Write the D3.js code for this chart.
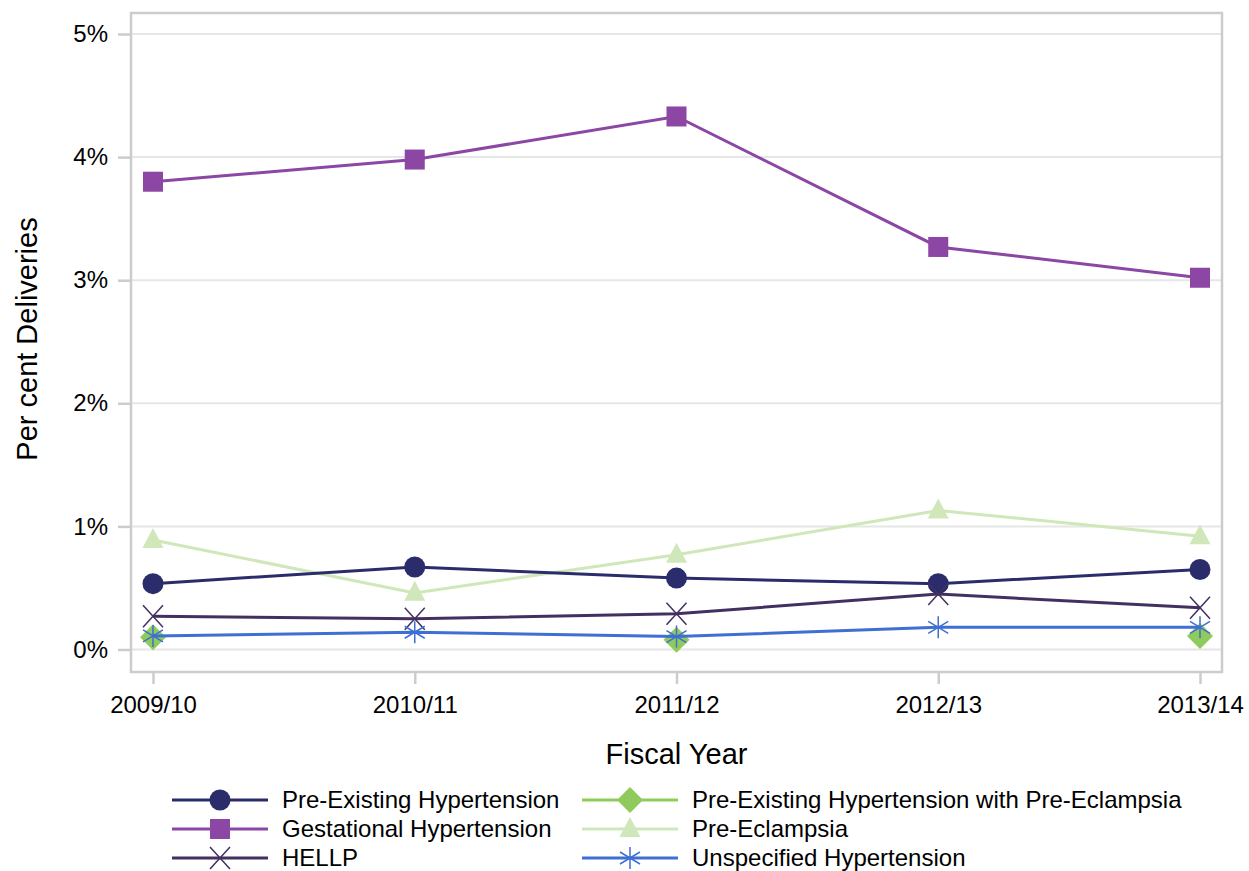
<!DOCTYPE html>
<html>
<head>
<meta charset="utf-8">
<script src="https://d3js.org/d3.v7.min.js"></script>
<style>
  body { margin: 0; background: #fff; }
  text { font-family: "Liberation Sans", Arial, sans-serif; fill: #000; }
</style>
</head>
<body>
<svg id="chart" width="1249" height="871"></svg>
<script>
// fiscal years on the x axis
var years = ["2009/10", "2010/11", "2011/12", "2012/13", "2013/14"];
var yTicks = [0, 1, 2, 3, 4, 5];

// per cent of deliveries
var preExisting   = [0.535, 0.67, 0.58, 0.535, 0.65];
var gestational   = [3.80, 3.98, 4.33, 3.27, 3.02];
var hellp         = [0.27, 0.25, 0.29, 0.45, 0.34];
var preExistingPE = [0.10, null, 0.08, null, 0.11];
var preEclampsia  = [0.89, 0.46, 0.77, 1.13, 0.92];
var unspecified   = [0.11, 0.14, 0.105, 0.18, 0.18];

var seriesNames = ["Pre-Existing Hypertension", "Gestational Hypertension", "HELLP",
  "Pre-Existing Hypertension with Pre-Eclampsia", "Pre-Eclampsia", "Unspecified Hypertension"];
var seriesValues = [preExisting, gestational, hellp, preExistingPE, preEclampsia, unspecified];
var seriesColors = ["#2b2c6b", "#8c46a3", "#433061", "#8fcb5c", "#cfe7b9", "#3f6fd2"];
var seriesMarkers = ["circle", "square", "x", "diamond", "triangle", "star"];

// draw order: back to front
var drawOrder = [4, 1, 0, 2, 3, 5];

var svg = d3.select("#chart");
var pLeft = 131, pTop = 13, pRight = 1222, pBottom = 672;

var x = d3.scalePoint().domain(years).range([153, 1200]);
var y = d3.scaleLinear().domain([0, 5]).range([649.5, 34]);

// gridlines
svg.append("g").selectAll("line").data(yTicks).enter().append("line")
  .attr("x1", pLeft).attr("x2", pRight)
  .attr("y1", function(d) { return y(d); }).attr("y2", function(d) { return y(d); })
  .style("stroke", "#e6e6e6").style("stroke-width", 2);

// frame
svg.append("rect")
  .attr("x", pLeft).attr("y", pTop).attr("width", pRight - pLeft).attr("height", pBottom - pTop)
  .style("fill", "none").style("stroke", "#cccccc").style("stroke-width", 2.5);

// axes
var yAxis = svg.append("g").attr("transform", "translate(" + pLeft + ",0)")
  .call(d3.axisLeft(y).tickValues(yTicks).tickSize(13).tickPadding(10)
    .tickFormat(function(d) { return d + "%"; }));
var xAxis = svg.append("g").attr("transform", "translate(0," + pBottom + ")")
  .call(d3.axisBottom(x).tickSize(12).tickPadding(12));
[yAxis, xAxis].forEach(function(a) {
  a.select(".domain").remove();
  a.selectAll(".tick line").style("stroke", "#cccccc").style("stroke-width", 2.5);
  a.selectAll(".tick text").style("font-size", "24px").style("font-family", "Liberation Sans, Arial, sans-serif").attr("fill", "#000");
});

svg.append("text")
  .attr("x", (pLeft + pRight) / 2).attr("y", 764)
  .attr("text-anchor", "middle").style("font-size", "29px")
  .text("Fiscal Year");

svg.append("text")
  .attr("transform", "translate(37,339) rotate(-90)")
  .attr("text-anchor", "middle").style("font-size", "29px")
  .text("Per cent Deliveries");

function drawMarker(g, type, color, cx, cy) {
  if (type == "circle") {
    g.append("circle").attr("cx", cx).attr("cy", cy).attr("r", 10.5).style("fill", color);
  } else if (type == "square") {
    g.append("rect").attr("x", cx - 10).attr("y", cy - 10).attr("width", 20).attr("height", 20).style("fill", color);
  } else if (type == "diamond") {
    g.append("path").attr("d", "M" + cx + "," + (cy - 13) + "L" + (cx + 13) + "," + cy + "L" + cx + "," + (cy + 13) + "L" + (cx - 13) + "," + cy + "Z")
      .style("fill", color);
  } else if (type == "triangle") {
    g.append("path").attr("d", "M" + cx + "," + (cy - 12) + "L" + (cx + 10.5) + "," + (cy + 8) + "L" + (cx - 10.5) + "," + (cy + 8) + "Z")
      .style("fill", color);
  } else if (type == "x") {
    g.append("path").attr("d", "M" + (cx - 10) + "," + (cy - 11) + "L" + (cx + 10) + "," + (cy + 11) + "M" + (cx + 10) + "," + (cy - 11) + "L" + (cx - 10) + "," + (cy + 11))
      .style("stroke", color).style("stroke-width", 1.5).style("fill", "none");
  } else if (type == "star") {
    g.append("path").attr("d", "M" + cx + "," + (cy - 11) + "L" + cx + "," + (cy + 11)
        + "M" + (cx - 10) + "," + (cy - 6) + "L" + (cx + 10) + "," + (cy + 6)
        + "M" + (cx + 10) + "," + (cy - 6) + "L" + (cx - 10) + "," + (cy + 6))
      .style("stroke", color).style("stroke-width", 1.5).style("fill", "none");
  }
}

// lines break where a value is missing
var line = d3.line()
  .defined(function(d) { return d.v != null; })
  .x(function(d) { return x(d.year); })
  .y(function(d) { return y(d.v); });

drawOrder.forEach(function(i) {
  var pts = years.map(function(yr, j) { return { year: yr, v: seriesValues[i][j] }; });
  var g = svg.append("g");
  g.append("path").datum(pts).attr("d", line)
    .style("fill", "none").style("stroke", seriesColors[i]).style("stroke-width", 3);
  pts.filter(function(d) { return d.v != null; })
    .forEach(function(d) { drawMarker(g, seriesMarkers[i], seriesColors[i], x(d.year), y(d.v)); });
});

// legend
var legCols = [172, 582];
var legRows = [800, 829, 858];
seriesNames.forEach(function(name, i) {
  var col = Math.floor(i / 3), row = i % 3;
  var lx = legCols[col], ly = legRows[row];
  var g = svg.append("g");
  g.append("line").attr("x1", lx).attr("x2", lx + 96).attr("y1", ly).attr("y2", ly)
    .style("stroke", seriesColors[i]).style("stroke-width", 3);
  drawMarker(g, seriesMarkers[i], seriesColors[i], lx + 48, ly);
  g.append("text").attr("x", lx + 110).attr("y", ly + 8).style("font-size", "24px").text(name);
});
</script>
</body>
</html>
